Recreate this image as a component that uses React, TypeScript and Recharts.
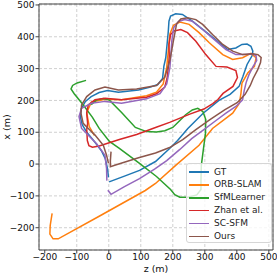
import React from 'react';
import { LineChart, Line, XAxis, YAxis, CartesianGrid, ReferenceLine, Legend } from 'recharts';

type P = [number, number]; // [z, x]

const gtPts: P[] = [[1,-56],[49,-38],[96,-20],[146,8],[190,49],[215,74],[247,112],[294,159],[344,200],[379,219],[407,244],[419,275],[432,313],[448,341],[450,355],[444,370],[432,377],[416,376],[397,365],[371,360],[314,407],[261,449],[230,470],[209,472],[193,465],[188,449],[186,418],[183,386],[178,334],[172,307],[168,269],[153,250],[127,241],[93,233],[30,226],[-4,231],[-30,225],[-55,212],[-73,197],[-86,174],[-89,149],[-83,124],[-70,102],[-45,71],[-23,42],[-11,17],[-4,-14],[-1,-42]];

const orbPts: P[] = [[-45,90],[-61,118],[-69,162],[-54,195],[-11,204],[40,202],[118,215],[149,226],[170,252],[181,304],[186,357],[191,409],[202,436],[222,446],[251,439],[282,413],[314,381],[356,344],[387,329],[418,334],[444,348],[460,334],[455,307],[434,286],[416,254],[413,223],[408,191],[387,160],[324,112],[282,59],[209,-4],[146,-61],[114,-83],[-30,-164],[-158,-235],[-174,-235],[-184,-220],[-183,-193],[-177,-155]];

const sfmPts: P[] = [[-55,187],[-39,201],[-17,206],[2,201],[40,162],[83,115],[118,102],[149,101],[175,105],[200,115],[222,137],[240,155],[261,170],[278,175],[294,165],[303,140],[302,96],[295,42],[289,-5],[288,-52],[288,-80],[275,-97],[247,-104],[222,-104],[206,-96],[193,-80],[149,-39],[96,2],[33,49],[2,71],[-30,112],[-51,147],[-82,189],[-108,221],[-118,236],[-113,247],[-99,255],[-71,263]];

const zhanPts: P[] = [[-69,110],[-67,74],[-62,58],[-51,53],[-30,57],[33,77],[87,93],[146,115],[190,131],[253,157],[297,173],[325,190],[341,203],[357,222],[388,244],[402,272],[397,294],[369,305],[335,307],[303,344],[272,386],[246,413],[225,423],[204,418],[193,407],[188,376],[189,338],[185,294],[182,269],[175,242],[149,221],[118,210],[40,202],[-12,207],[-43,202],[-64,186],[-69,160],[-66,128],[-69,108]];

const scPts: P[] = [[-3,-82],[7,-95],[49,-71],[96,-46],[143,-16],[181,11],[222,46],[259,80],[297,108],[335,137],[366,160],[397,181],[418,202],[423,231],[429,256],[438,281],[451,307],[462,325],[460,341],[448,346],[429,344],[397,344],[366,360],[329,392],[293,423],[261,449],[237,454],[218,448],[203,429],[197,388],[191,304],[181,252],[160,221],[118,205],[40,191],[-12,197],[-54,191],[-85,175],[-93,149],[-85,112],[-38,64],[-12,28],[-7,-14],[-6,-52]];

const oursPts: P[] = [[7,39],[5,11],[5,-8],[21,-3],[93,20],[146,35],[190,52],[231,77],[272,108],[316,140],[363,171],[401,193],[426,219],[442,247],[451,269],[465,296],[474,319],[476,335],[466,344],[450,347],[418,344],[387,355],[356,376],[324,407],[293,439],[272,454],[246,460],[225,456],[212,441],[202,388],[191,326],[175,273],[149,247],[87,236],[30,233],[-12,242],[-43,233],[-69,212],[-85,186],[-87,160],[-80,128],[-64,112],[-43,91],[-17,59],[-7,28],[-1,2]];

const seriesNames = ['GT', 'ORB-SLAM', 'SfMLearner', 'Zhan et al.', 'SC-SFM', 'Ours'];
const seriesColors = ['#1f77b4', '#ff7f0e', '#2ca02c', '#d62728', '#9467bd', '#8c564b'];
const seriesPts = [gtPts, orbPts, sfmPts, zhanPts, scPts, oursPts];

const xTicks = [-200, -100, 0, 100, 200, 300, 400, 500];
const yTicks = [-200, -100, 0, 100, 200, 300, 400, 500];
const xDomain: [number, number] = [-218, 513];
const yDomain: [number, number] = [-270, 503];

const fmt = (v: number) => (v < 0 ? '\u2212' + Math.abs(v) : String(v));
const FONT = 'DejaVu Sans';

const renderLegend = () => (
  <div
    style={{
      width: 86,
      height: 80,
      boxSizing: 'border-box',
      border: '1px solid #d6d6d6',
      borderRadius: 3,
      background: 'rgba(255,255,255,0.8)',
      position: 'relative',
      fontFamily: FONT,
      fontSize: 9,
      color: '#222',
    }}
  >
    {seriesNames.map((n, i) => (
      <div
        key={n}
        style={{
          position: 'absolute',
          left: 0,
          top: 8 + i * 12.9 - 6.5,
          height: 13,
          display: 'flex',
          alignItems: 'center',
          whiteSpace: 'nowrap',
        }}
      >
        <div style={{ width: 20, height: 1.6, background: seriesColors[i], marginLeft: 2 }} />
        <span style={{ marginLeft: 5, lineHeight: '13px' }}>{n}</span>
      </div>
    ))}
  </div>
);

export default function App() {
  return (
    <div style={{ position: 'absolute', left: 0, top: 0, width: 277, height: 273, background: '#fff', fontFamily: FONT }}>
      <LineChart width={277} height={273} margin={{ top: 4, right: 4, bottom: 0, left: 0 }}>
        <CartesianGrid stroke="#d0d0d0" strokeDasharray="3 2" />
        <XAxis
          dataKey="z"
          type="number"
          domain={xDomain}
          ticks={xTicks}
          allowDataOverflow
          height={23}
          tickSize={3.5}
          tickMargin={0.5}
          tickFormatter={fmt}
          stroke="#444"
          tick={{ fontSize: 9, fill: '#111', fontFamily: FONT }}
        />
        <YAxis
          type="number"
          domain={yDomain}
          ticks={yTicks}
          allowDataOverflow
          width={39}
          tickSize={3.5}
          tickMargin={1}
          tickFormatter={fmt}
          stroke="#444"
          tick={{ fontSize: 9, fill: '#111', fontFamily: FONT }}
        />
        <ReferenceLine y={yDomain[1]} stroke="#444" />
        <ReferenceLine x={xDomain[1]} stroke="#444" />
        {seriesPts.map((pts, i) => (
          <Line
            key={seriesNames[i]}
            name={seriesNames[i]}
            data={pts.map(([z, x]) => ({ z, x }))}
            dataKey="x"
            type="linear"
            stroke={seriesColors[i]}
            strokeWidth={1.5}
            dot={false}
            activeDot={false}
            isAnimationActive={false}
          />
        ))}
        <Legend
          layout="horizontal"
          verticalAlign="middle"
          align="center"
          content={renderLegend}
          wrapperStyle={{ left: 186, top: 163, width: 86, height: 80 }}
        />
      </LineChart>
      <svg width={277} height={273} style={{ position: 'absolute', left: 0, top: 0, pointerEvents: 'none' }}>
        <text x={156} y={268} textAnchor="middle" dominantBaseline="central" fontSize={9.5} fontFamily={FONT} fill="#111">
          z (m)
        </text>
        <text
          transform="translate(6.5,127) rotate(-90)"
          textAnchor="middle"
          dominantBaseline="central"
          fontSize={9.5}
          fontFamily={FONT}
          fill="#111"
        >
          x (m)
        </text>
      </svg>
    </div>
  );
}
